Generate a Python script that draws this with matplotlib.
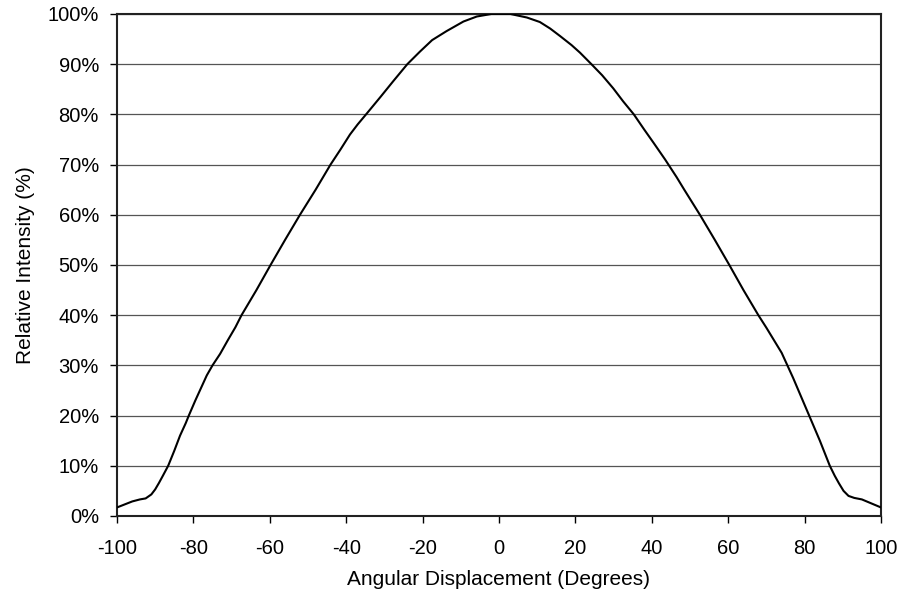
import numpy as np
import matplotlib.pyplot as plt

plt.rcParams['font.family'] = ['Liberation Sans', 'DejaVu Sans']
plt.rcParams['axes.unicode_minus'] = False

# angular displacement (deg) and relative intensity (%)
angle = [-100, -98, -96, -94, -92.5, -91, -90, -89, -88, -86.6, -85, -83.5,
         -82, -81.2, -79.5, -78, -76.5, -75, -73, -71, -69, -67.4, -63.5,
         -59.8, -56, -52.1, -48, -44.1, -41.5, -39, -37, -34.8, -31, -27.7,
         -24, -20.7, -17.5, -13.7, -9.3, -5.8, -2, 3, 7.3, 10.7, 13.4, 16,
         19, 21.2, 24.2, 27, 29.9, 32.5, 35.3, 38, 40.5, 43.5, 46.5, 48.5,
         52.6, 56.5, 60.3, 64, 67.9, 70, 72, 74, 75.5, 77, 78.4, 79.8, 81.2,
         82.6, 84, 85.3, 86.6, 87.9, 89, 90.2, 91.5, 93, 95, 97.5, 100]
intensity = [1.7, 2.3, 2.9, 3.3, 3.5, 4.3, 5.3, 6.6, 8, 10, 13, 16,
             18.5, 20, 23, 25.5, 28, 30, 32.3, 35, 37.6, 40, 45,
             50, 55, 60, 65, 70, 73, 76, 78, 80, 83.5, 86.6,
             90, 92.5, 94.8, 96.6, 98.5, 99.5, 100, 100, 99.3, 98.4, 97.1, 95.6,
             93.8, 92.3, 90, 87.8, 85.2, 82.6, 80, 77, 74.3, 71, 67.5, 65,
             60, 55, 50, 45, 40, 37.5, 35, 32.5, 30, 27.5, 25, 22.5, 20,
             17.5, 15, 12.5, 10, 8, 6.5, 5, 4, 3.6, 3.3, 2.5, 1.7]

xticks = np.arange(-100, 101, 20)
yticks = np.arange(0, 101, 10)

fig = plt.figure(figsize=(9.02, 6.03), dpi=100)
ax = fig.add_axes([0.1297, 0.1443, 0.8470, 0.8325])

ax.plot(angle, intensity, color='black', lw=1.5, zorder=3)

ax.set_xlim(-100, 100)
ax.set_ylim(0, 100)
ax.set_xticks(xticks)
ax.set_yticks(yticks)
ax.set_yticklabels([f'{v}%' for v in yticks])
ax.yaxis.grid(True, color='#555555', lw=0.9)
ax.set_axisbelow(True)
for s in ax.spines.values():
    s.set_linewidth(1.5)
    s.set_color('#222222')
ax.tick_params(direction='out', length=5, width=1, labelsize=14.5, colors='black')
ax.tick_params(axis='x', pad=11.5)
ax.tick_params(axis='y', pad=8)

ax.set_xlabel('Angular Displacement (Degrees)', fontsize=15, labelpad=8.5)
ax.set_ylabel('Relative Intensity (%)', fontsize=15, labelpad=9)

fig.savefig('out.png', dpi=100)
